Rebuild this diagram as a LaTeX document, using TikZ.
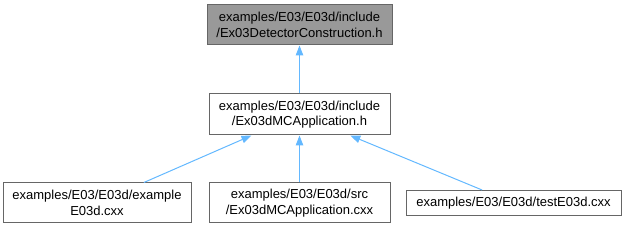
\documentclass[tikz,border=0pt]{standalone}
\usepackage{fontspec}
\setmainfont{Liberation Sans}
\usetikzlibrary{arrows.meta}
\definecolor{edgeblue}{HTML}{63B8FF}
\definecolor{boxline}{HTML}{666666}
\definecolor{boxgrey}{HTML}{999999}
\begin{document}
\begin{tikzpicture}[x=1pt, y=-1pt,
  every node/.style={align=center, font=\fontsize{13}{15.5}\selectfont, inner sep=0pt},
  filebox/.style={draw=boxline, line width=1pt, fill=white},
  dep/.style={{Triangle[length=10pt, width=7.5pt]}-, draw=edgeblue, line width=1pt}]
  \useasboundingbox (0,0) rectangle (625,229);

  % Header in focus
  \node[filebox, fill=boxgrey, minimum width=185pt, minimum height=40pt] (detector) at (299.5, 25) {examples/E03/E03d/include\\/Ex03DetectorConstruction.h};

  % Includer
  \node[filebox, minimum width=181pt, minimum height=41pt] (mcapp) at (299.5, 114.5) {examples/E03/E03d/include\\/Ex03dMCApplication.h};

  % Bottom row
  \node[filebox, minimum width=188pt, minimum height=40pt] (example) at (97, 203) {examples/E03/E03d/example\\E03d.cxx};
  \node[filebox, minimum width=181pt, minimum height=40pt] (mcsrc) at (299.5, 203) {examples/E03/E03d/src\\/Ex03dMCApplication.cxx};
  \node[filebox, minimum width=215pt, minimum height=25pt] (test) at (513.5, 203) {examples/E03/E03d/testE03d.cxx};

  % Include edges
  \draw[dep] (detector) -- (mcapp);
  \foreach \src in {example, mcsrc, test}
    \draw[dep] (mcapp) -- (\src);
\end{tikzpicture}
\end{document}
